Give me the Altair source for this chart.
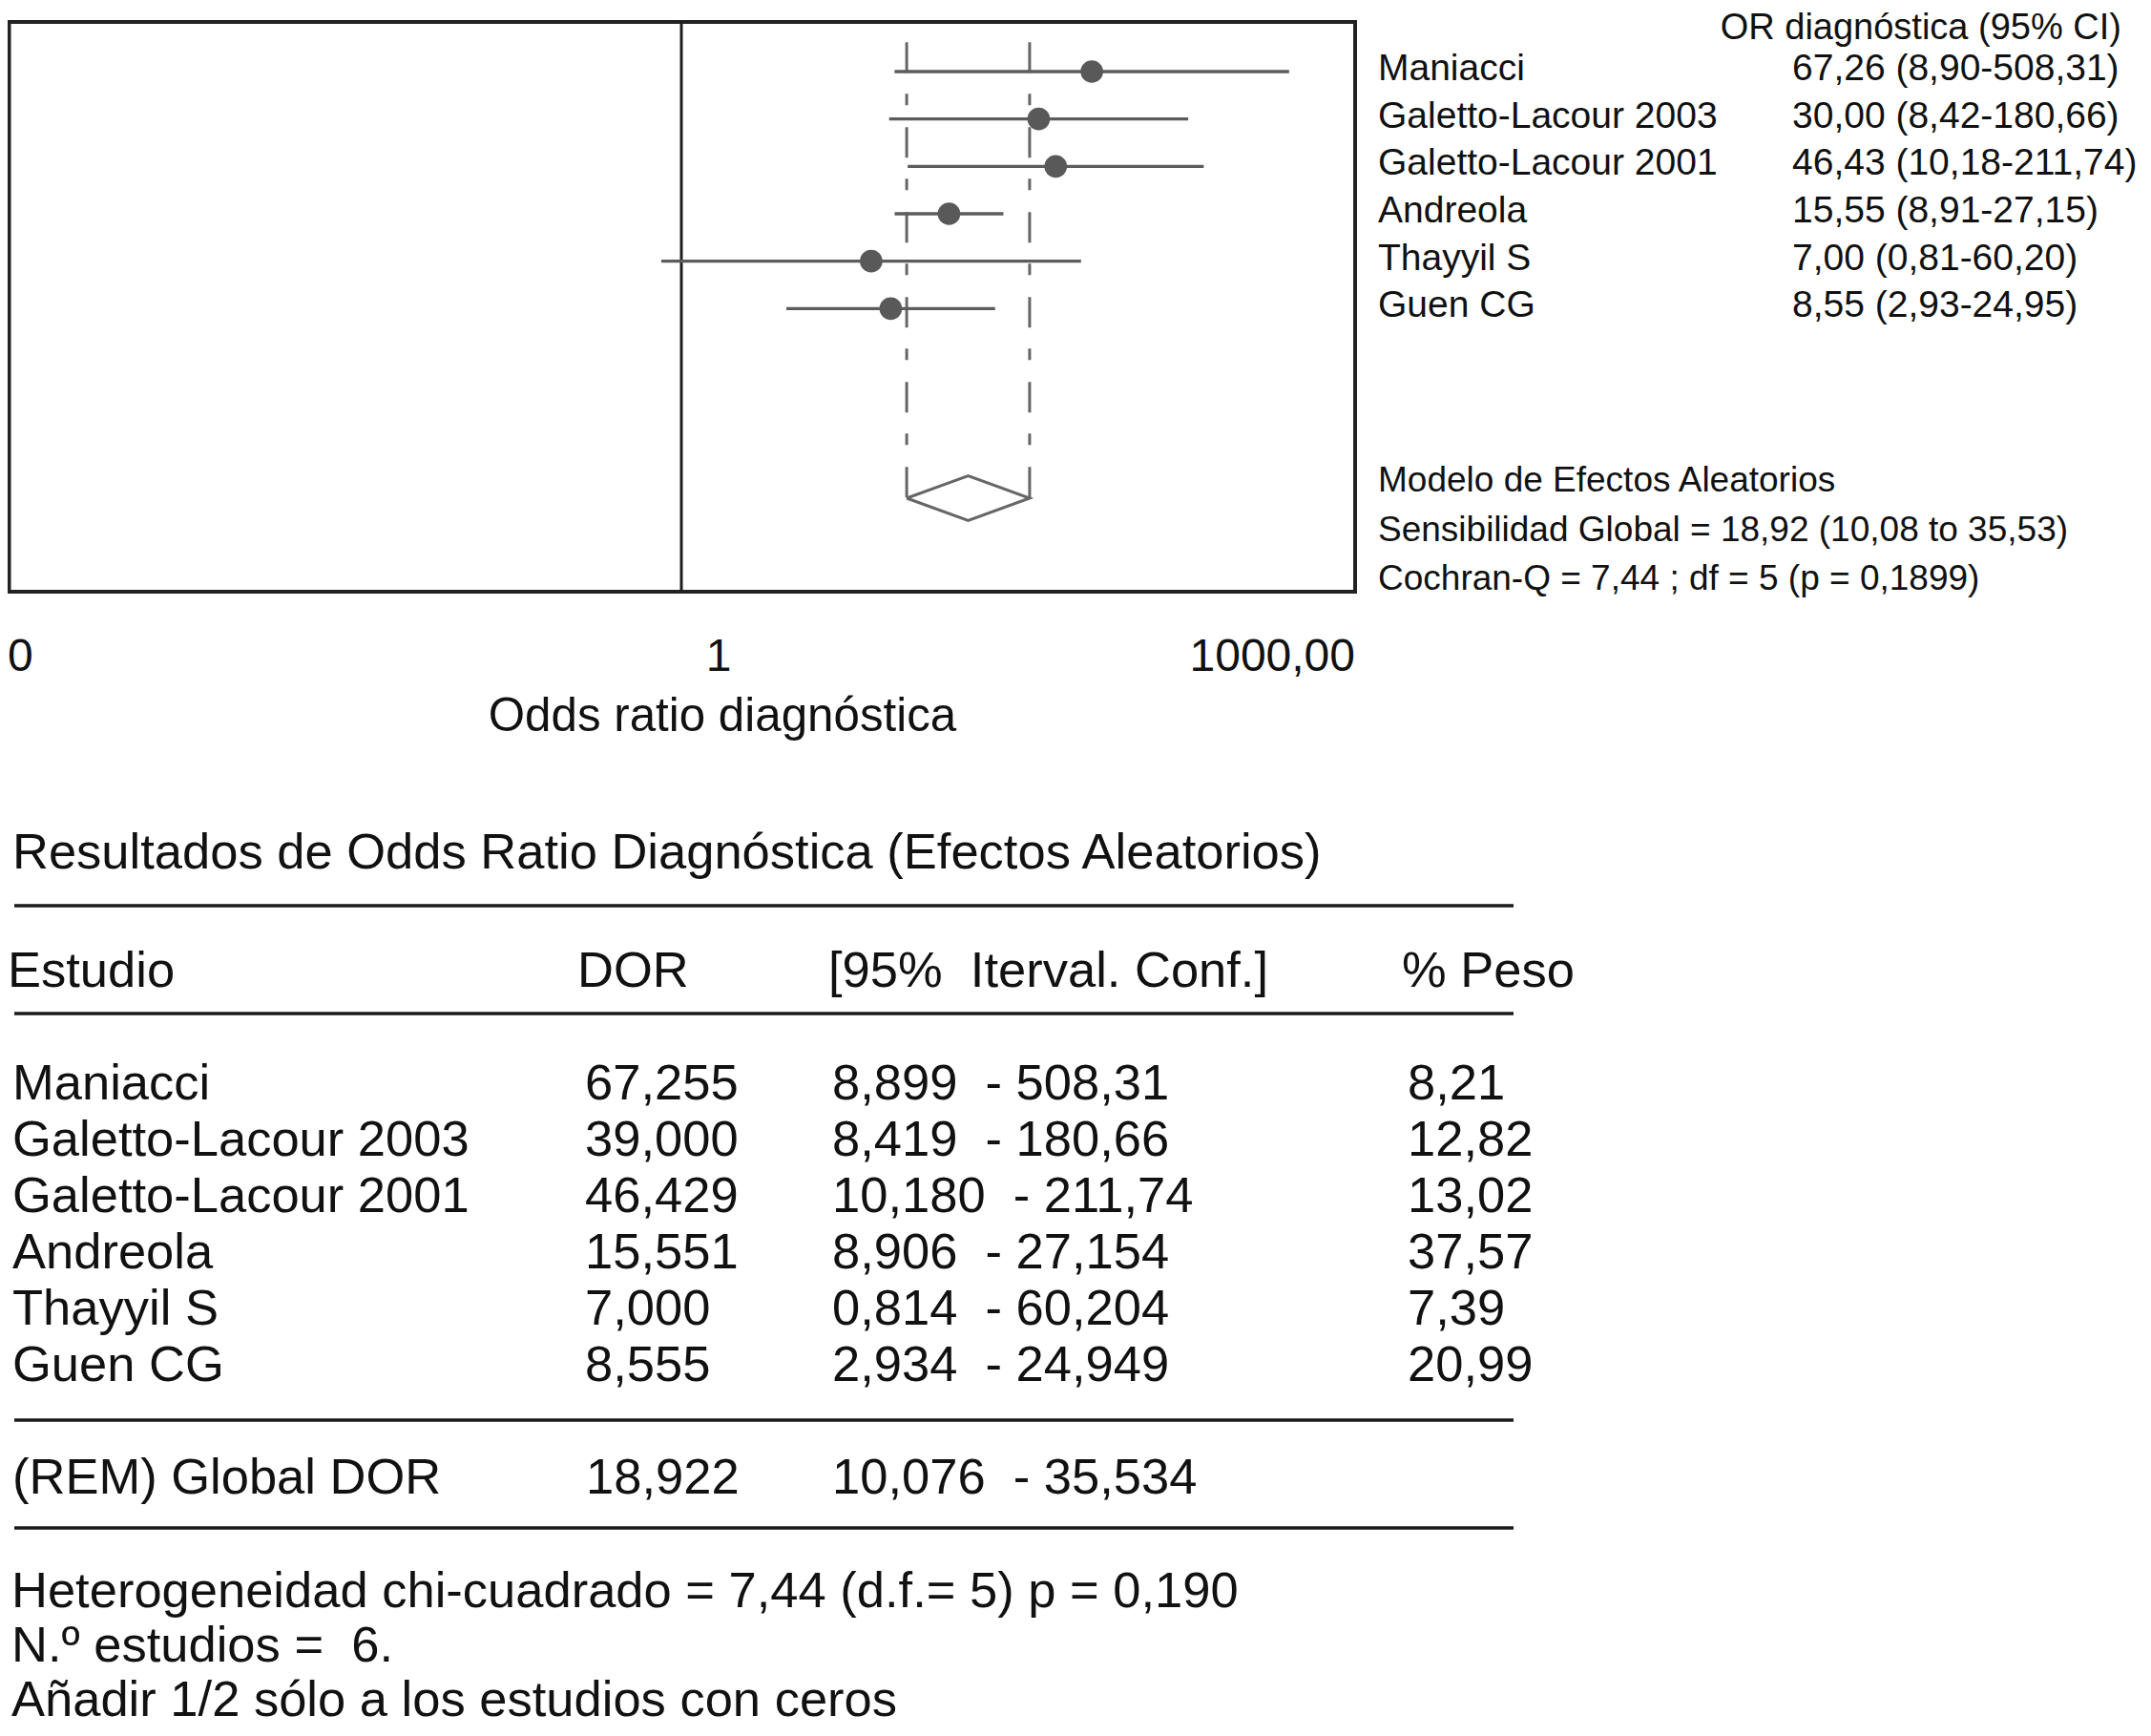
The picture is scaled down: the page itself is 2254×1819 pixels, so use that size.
import altair as alt
import pandas as pd

# ---------------- data ----------------
studies = ["Maniacci", "Galetto-Lacour 2003", "Galetto-Lacour 2001", "Andreola", "Thayyil S", "Guen CG"]
dor = [67.255, 39.000, 46.429, 15.551, 7.000, 8.555]
ci_low = [8.899, 8.419, 10.180, 8.906, 0.814, 2.934]
ci_high = [508.31, 180.66, 211.74, 27.154, 60.204, 24.949]
or_labels = ["67,26 (8,90-508,31)", "30,00 (8,42-180,66)", "46,43 (10,18-211,74)",
             "15,55 (8,91-27,15)", "7,00 (0,81-60,20)", "8,55 (2,93-24,95)"]
dor_labels = ["67,255", "39,000", "46,429", "15,551", "7,000", "8,555"]
ci_labels = ["8,899\u00a0 - 508,31", "8,419\u00a0 - 180,66", "10,180\u00a0 - 211,74",
             "8,906\u00a0 - 27,154", "0,814\u00a0 - 60,204", "2,934\u00a0 - 24,949"]
weight_labels = ["8,21", "12,82", "13,02", "37,57", "7,39", "20,99"]

global_dor = 18.922
global_low = 10.076
global_high = 35.534
global_row = ["(REM) Global DOR", "18,922", "10,076\u00a0 - 35,534"]

tick_values = [0.001, 1, 1000]
tick_labels = ["0", "1", "1000,00"]
axis_title = "Odds ratio diagnóstica"
right_header = "OR diagnóstica (95% CI)"
summary_lines = ["Modelo de Efectos Aleatorios",
                 "Sensibilidad Global = 18,92 (10,08 to 35,53)",
                 "Cochran-Q = 7,44 ; df = 5 (p = 0,1899)"]
table_title = "Resultados de Odds Ratio Diagnóstica (Efectos Aleatorios)"
table_header = ["Estudio", "DOR", "[95%\u00a0 Iterval. Conf.]", "% Peso"]
footer_lines = ["Heterogeneidad chi-cuadrado = 7,44 (d.f.= 5) p = 0,190",
                "N.º estudios =\u00a0 6.",
                "Añadir 1/2 sólo a los estudios con ceros"]

# ---------------- layout ----------------
FONT = "Liberation Sans"
TXT = "#111111"
W, H = 2238, 1803
X_F = alt.Scale(type="log", domain=[0.001, 1000], range=[0, 1412], nice=False)
Y_F = alt.Scale(domain=[0, 9], range=[67, 514], nice=False, zero=False)
BOX_TOP, BOX_BOT = 15, 612
DIAMOND_ROW = 9
DIAMOND_HALF = 0.473
DASH_TOP = -0.62
RFS = 39      # right-hand study list
SFS = 37      # summary lines
AFS = 48      # axis tick labels
TFS = 52.5    # table


def fx(field):
    return alt.X(field, type="quantitative", scale=X_F, axis=None)


def fy(field):
    return alt.Y(field, type="quantitative", scale=Y_F, axis=None)


df = pd.DataFrame({
    "row": list(range(len(studies))),
    "study": studies, "dor": dor, "lo": ci_low, "hi": ci_high,
    "orl": or_labels, "dorl": dor_labels, "cil": ci_labels, "wl": weight_labels,
})
one = pd.DataFrame({"a": [0]})

layers = []

# frame of the forest plot
layers.append(alt.Chart(one).mark_rect(fillOpacity=0, stroke="#222222", strokeWidth=4).encode(
    x=alt.value(1.5), x2=alt.value(1412), y=alt.value(BOX_TOP), y2=alt.value(BOX_BOT)))

# reference line at OR = 1
layers.append(alt.Chart(pd.DataFrame({"v": [1.0]})).mark_rule(color="#1e1e1e", strokeWidth=3).encode(
    x=fx("v"), y=alt.value(BOX_TOP), y2=alt.value(BOX_BOT)))

# dashed lines at the pooled CI
dash_df = pd.DataFrame({"v": [global_low, global_high], "top": [DASH_TOP] * 2, "bot": [DIAMOND_ROW] * 2})
layers.append(alt.Chart(dash_df).mark_rule(color="#666666", strokeWidth=3, strokeDash=[32, 22, 12, 23]).encode(
    x=fx("v"), y=fy("top"), y2=alt.Y2("bot")))

# CI lines
layers.append(alt.Chart(df).mark_rule(color="#5c5c5c", strokeWidth=3.4).encode(
    x=fx("lo"), x2=alt.X2("hi"), y=fy("row")))

# point estimates
layers.append(alt.Chart(df).mark_point(filled=True, shape="circle", size=560, color="#595959", opacity=1).encode(
    x=fx("dor"), y=fy("row")))

# pooled diamond
dia = pd.DataFrame({
    "x": [global_low, global_dor, global_high, global_dor, global_low],
    "y": [DIAMOND_ROW, DIAMOND_ROW - DIAMOND_HALF, DIAMOND_ROW, DIAMOND_ROW + DIAMOND_HALF, DIAMOND_ROW],
    "o": [0, 1, 2, 3, 4],
})
layers.append(alt.Chart(dia).mark_line(color="#666666", strokeWidth=3).encode(
    x=fx("x"), y=fy("y"), order="o:Q"))

# x tick labels
tick_df = pd.DataFrame({"v": tick_values, "t": tick_labels})
for i, (al, dx) in enumerate([("left", 0), ("center", 39), ("right", 0)]):
    layers.append(alt.Chart(tick_df.iloc[[i]]).mark_text(
        align=al, baseline="alphabetic", dx=dx, fontSize=AFS, font=FONT, color=TXT).encode(
        x=fx("v"), y=alt.value(695), text="t:N"))

# axis title
layers.append(alt.Chart(pd.DataFrame({"t": [axis_title]})).mark_text(
    align="center", baseline="alphabetic", fontSize=49.3, font=FONT, color=TXT).encode(
    x=alt.value(749), y=alt.value(758), text="t:N"))

# right side text
layers.append(alt.Chart(pd.DataFrame({"t": [right_header]})).mark_text(
    align="right", baseline="alphabetic", fontSize=38, font=FONT, color=TXT).encode(
    x=alt.value(2215), y=alt.value(33), text="t:N"))
layers.append(alt.Chart(df).mark_text(
    align="left", baseline="alphabetic", dy=9, fontSize=RFS, font=FONT, color=TXT).encode(
    x=alt.value(1436), y=fy("row"), text="study:N"))
layers.append(alt.Chart(df).mark_text(
    align="left", baseline="alphabetic", dy=9, fontSize=RFS, font=FONT, color=TXT).encode(
    x=alt.value(1870), y=fy("row"), text="orl:N"))
sum_df = pd.DataFrame({"i": list(range(len(summary_lines))), "t": summary_lines})
layers.append(alt.Chart(sum_df).mark_text(
    align="left", baseline="alphabetic", fontSize=SFS, font=FONT, color=TXT).encode(
    x=alt.value(1436),
    y=alt.Y("i:Q", scale=alt.Scale(domain=[0, 2], range=[507, 610], zero=False, nice=False), axis=None),
    text="t:N"))

# ---------------- table ----------------
layers.append(alt.Chart(pd.DataFrame({"t": [table_title]})).mark_text(
    align="left", baseline="alphabetic", fontSize=TFS, font=FONT, color=TXT).encode(
    x=alt.value(5), y=alt.value(902), text="t:N"))
for yy in [941, 1054, 1480, 1593]:
    layers.append(alt.Chart(one).mark_rule(color="#1a1a1a", strokeWidth=3.5).encode(
        x=alt.value(7), x2=alt.value(1578), y=alt.value(yy)))
hdr_df = pd.DataFrame({"t": table_header, "c": [0, 1, 2, 3]})
for i, xx in enumerate([0, 597, 860, 1461]):
    layers.append(alt.Chart(hdr_df.iloc[[i]]).mark_text(
        align="left", baseline="alphabetic", fontSize=TFS, font=FONT, color=TXT).encode(
        x=alt.value(xx), y=alt.value(1026), text="t:N"))
ROW_Y = alt.Scale(domain=[0, 5], range=[1144, 1439], zero=False, nice=False)
for col, xx in [("study", 5), ("dorl", 605), ("cil", 864), ("wl", 1467)]:
    layers.append(alt.Chart(df).mark_text(
        align="left", baseline="alphabetic", fontSize=TFS, font=FONT, color=TXT).encode(
        x=alt.value(xx), y=alt.Y("row:Q", scale=ROW_Y, axis=None), text=f"{col}:N"))
glob_df = pd.DataFrame({"t": global_row})
for i, xx in enumerate([5, 606, 864]):
    layers.append(alt.Chart(glob_df.iloc[[i]]).mark_text(
        align="left", baseline="alphabetic", fontSize=TFS, font=FONT, color=TXT).encode(
        x=alt.value(xx), y=alt.value(1557), text="t:N"))
foot_df = pd.DataFrame({"i": list(range(len(footer_lines))), "t": footer_lines})
layers.append(alt.Chart(foot_df).mark_text(
    align="left", baseline="alphabetic", fontSize=TFS, font=FONT, color=TXT).encode(
    x=alt.value(4),
    y=alt.Y("i:Q", scale=alt.Scale(domain=[0, 2], range=[1676, 1790], zero=False, nice=False), axis=None),
    text="t:N"))

chart = alt.layer(*layers).resolve_scale(x="independent", y="independent").properties(
    width=W, height=H, autosize=alt.AutoSizeParams(type="none"), padding=0,
    background="white",
).configure_view(strokeWidth=0)

chart.save("out.html", embed_options={"renderer": "svg", "actions": False})
